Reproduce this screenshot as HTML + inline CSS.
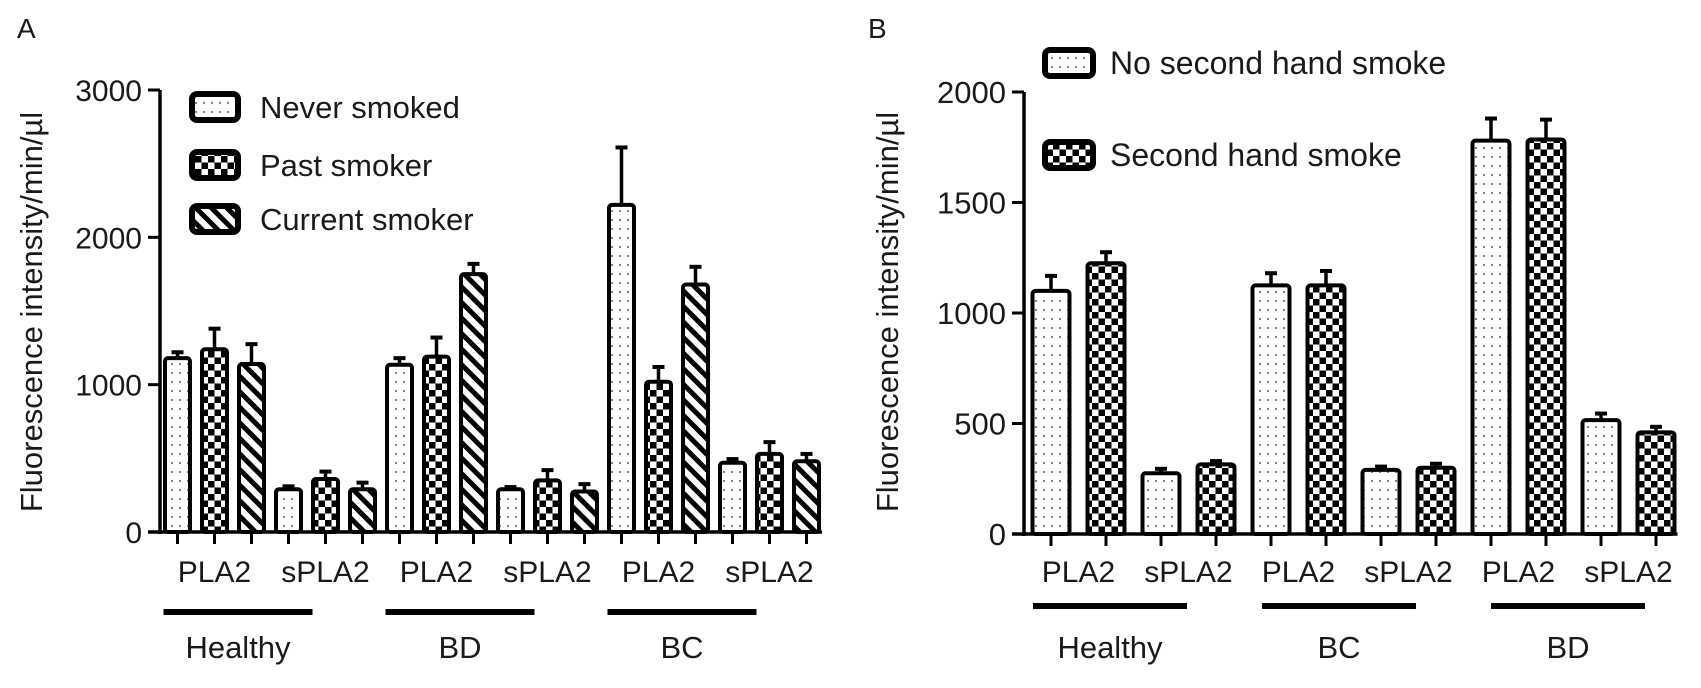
<!DOCTYPE html>
<html><head><meta charset="utf-8"><style>
html,body{margin:0;padding:0;background:#fff;}
svg text{font-family:"Liberation Sans",Arial,sans-serif;fill:#1a1a1a;}
</style></head><body>
<svg id="chart" width="1701" height="683" viewBox="0 0 1701 683" xmlns="http://www.w3.org/2000/svg">
<defs>
<pattern id="pDots" width="8" height="9" patternUnits="userSpaceOnUse"><rect width="8" height="9" fill="#fff"/><circle cx="4" cy="4" r="1.1" fill="#777"/></pattern>
<pattern id="pChk" width="13" height="13" patternUnits="userSpaceOnUse"><rect width="13" height="13" fill="#fff"/><rect width="6.5" height="6.5" fill="#000"/><rect x="6.5" y="6.5" width="6.5" height="6.5" fill="#000"/></pattern>
<pattern id="pStr" width="11" height="11" patternUnits="userSpaceOnUse" patternTransform="rotate(-45)"><rect width="11" height="11" fill="#fff"/><rect width="5" height="11" fill="#000"/></pattern>
</defs>
<text x="17" y="38" font-size="28">A</text>
<text x="868" y="38" font-size="28">B</text>
<g id="gA"></g><g id="gB"></g>
</svg>
<script>
// Panel A data
const catsA = ["PLA2","sPLA2","PLA2","sPLA2","PLA2","sPLA2"];
const groupsA = ["Healthy","BD","BC"];
const seriesA = ["Never smoked","Past smoker","Current smoker"];
const neverA = [1180, 290, 1135, 290, 2220, 470];
const pastA = [1240, 360, 1190, 350, 1020, 530];
const currentA = [1140, 290, 1750, 275, 1680, 480];
const neverErrA = [40, 20, 45, 15, 390, 25];
const pastErrA = [140, 50, 130, 70, 100, 80];
const currentErrA = [135, 45, 70, 50, 120, 50];
const ticksA = [0, 1000, 2000, 3000];
// Panel B data
const catsB = ["PLA2","sPLA2","PLA2","sPLA2","PLA2","sPLA2"];
const groupsB = ["Healthy","BC","BD"];
const seriesB = ["No second hand smoke","Second hand smoke"];
const noB = [1100, 275, 1125, 290, 1780, 515];
const yesB = [1225, 315, 1125, 300, 1785, 460];
const noErrB = [68, 20, 55, 15, 100, 30];
const yesErrB = [50, 15, 65, 18, 90, 25];
const ticksB = [0, 500, 1000, 1500, 2000];

const NS = "http://www.w3.org/2000/svg";
function mk(parent, tag, attrs) {
  const e = document.createElementNS(NS, tag);
  for (const k in attrs) e.setAttribute(k, attrs[k]);
  parent.appendChild(e);
  return e;
}

function panel(g, cfg) {
  const yS = v => cfg.y0 - (v / cfg.ymax) * (cfg.y0 - cfg.yTop);
  const nS = cfg.series.length;
  const xC = i => cfg.x0 + cfg.step * i;
  const ax = mk(g, "line", {x1: cfg.ax, y1: yS(cfg.ymax), x2: cfg.ax, y2: cfg.y0 + 2, stroke: "#000", "stroke-width": 3.5});
  
  
  cfg.ticks.forEach(t => {
    const tl = mk(g, "line", {x1: cfg.ax - 12, y1: yS(t), x2: cfg.ax, y2: yS(t), stroke: "#000", "stroke-width": 3});
    
    
    const tx = mk(g, "text", {x: cfg.ax - 18, y: yS(t) + 11, "font-size": cfg.tickFs, "text-anchor": "end"});
    tx.textContent = t;
    
    
  });
  const yt = mk(g, "text", {x: 0, y: 0, "font-size": 31, "text-anchor": "middle", transform: `translate(${cfg.titleX},${cfg.titleY}) rotate(-90)`});
  yt.textContent = "Fluorescence intensity/min/\u00b5l";
  
  
  const nBars = cfg.cats.length * nS;
  const xa = mk(g, "line", {x1: cfg.ax - 12, y1: cfg.y0, x2: xC(nBars - 1) + cfg.bw / 2 + 3, y2: cfg.y0, stroke: "#000", "stroke-width": 3.5});
  
  
  cfg.cats.forEach((c, ci) => {
    cfg.series.forEach((s, si) => {
      const i = ci * nS + si;
      const v = cfg.vals[si][ci], e = cfg.errs[si][ci];
      const cx = xC(i);
      const tk = mk(g, "line", {x1: cx, y1: cfg.y0, x2: cx, y2: cfg.y0 + 12, stroke: "#000", "stroke-width": 3});
      
      
      const el = mk(g, "line", {x1: cx, y1: yS(v), x2: cx, y2: yS(v + e), stroke: "#000", "stroke-width": 3.5});
      
      
      const ec = mk(g, "line", {x1: cx - 6, y1: yS(v + e), x2: cx + 6, y2: yS(v + e), stroke: "#000", "stroke-width": 4});
      
      
      const b = mk(g, "rect", {x: cx - cfg.bw / 2, y: yS(v), width: cfg.bw, height: cfg.y0 - yS(v), rx: 3, fill: cfg.fills[si], stroke: "#000", "stroke-width": 4});
      
      
    });
    const lc = (xC(ci * nS) + xC(ci * nS + nS - 1)) / 2;
    const lt = mk(g, "text", {x: lc, y: cfg.catY, "font-size": 30, "text-anchor": "middle"});
    lt.textContent = c;
    
    
  });
  cfg.groups.forEach((gr, gi) => {
    const perG = 2 * nS;
    const off = gi * cfg.gShift;
    const a = xC(gi * perG) + cfg.lineL + off, bb = xC(gi * perG + cfg.lineEnd) + cfg.lineR + off;
    const gl = mk(g, "line", {x1: a, y1: cfg.lineY, x2: bb, y2: cfg.lineY, stroke: "#000", "stroke-width": 6});
    
    
    const gt = mk(g, "text", {x: (a + bb) / 2, y: cfg.groupY, "font-size": 31, "text-anchor": "middle"});
    gt.textContent = gr;
    
    
  });
  cfg.series.forEach((s, si) => {
    const ly = cfg.legY[si];
    const lb = mk(g, "rect", {x: cfg.legX, y: ly - 13, width: cfg.legW, height: 26, rx: 5, fill: cfg.fills[si], stroke: "#000", "stroke-width": 6});
    
    
    const lt = mk(g, "text", {x: cfg.legTX, y: ly + 11, "font-size": cfg.legFs});
    lt.textContent = s;
    
    
  });
}

panel(document.getElementById("gA"), {
  p: "a", cats: catsA, groups: groupsA, series: seriesA,
  vals: [neverA, pastA, currentA], errs: [neverErrA, pastErrA, currentErrA],
  fills: ["url(#pDots)", "url(#pChk)", "url(#pStr)"],
  ticks: ticksA, ymax: 3000, y0: 532, yTop: 90, ax: 160, x0: 177.5, step: 37, bw: 25,
  titleX: 42, titleY: 312, catY: 582, lineY: 612, groupY: 658, tickFs: 30,
  lineL: -14, lineR: -13, lineEnd: 4, gShift: 0,
  legX: 192, legW: 46, legTX: 260, legY: [107, 165, 219], legFs: 31
});
panel(document.getElementById("gB"), {
  p: "b", cats: catsB, groups: groupsB, series: seriesB,
  vals: [noB, yesB], errs: [noErrB, yesErrB],
  fills: ["url(#pDots)", "url(#pChk)"],
  ticks: ticksB, ymax: 2000, y0: 534, yTop: 92, ax: 1024, x0: 1051, step: 55, bw: 37,
  titleX: 898, titleY: 312, catY: 582, lineY: 606, groupY: 658, tickFs: 31,
  lineL: -18, lineR: -29, lineEnd: 3, gShift: 9,
  legX: 1045, legW: 48, legTX: 1110, legY: [63, 155], legFs: 32
});
</script>
</body></html>
